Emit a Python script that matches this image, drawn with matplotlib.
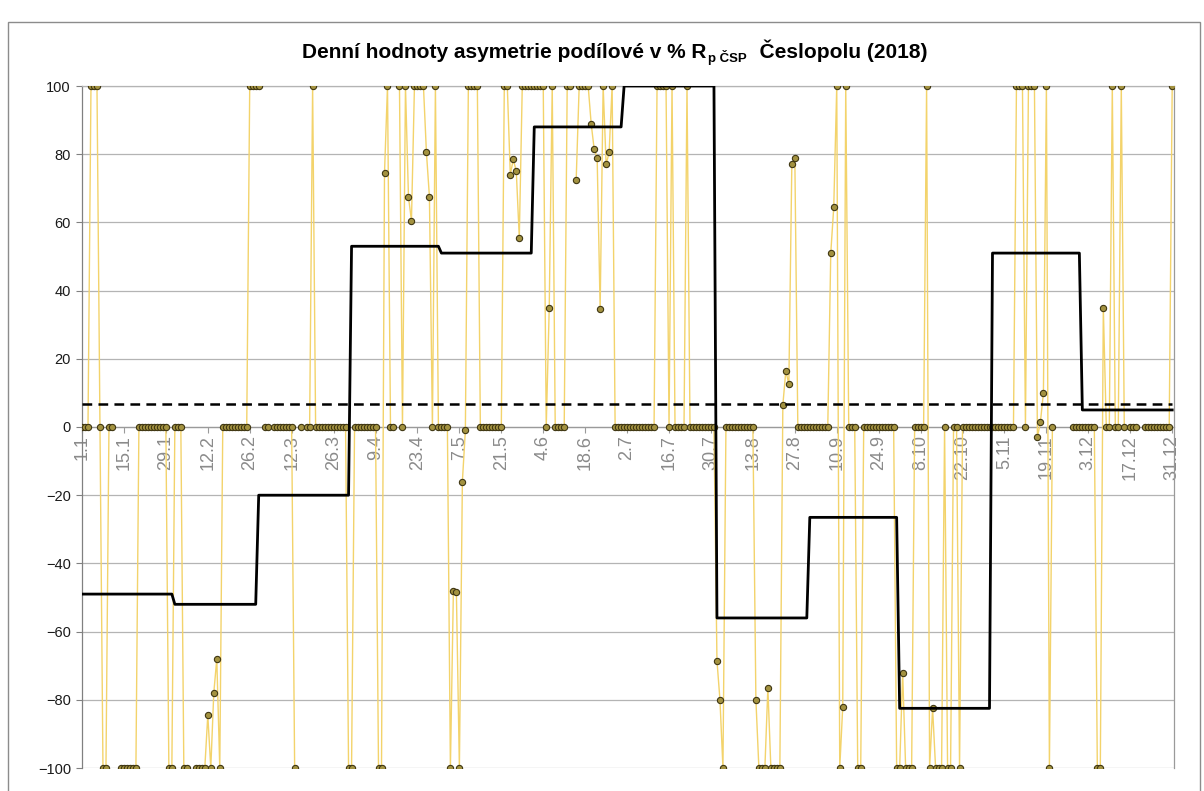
import numpy as np
import matplotlib
matplotlib.use("Agg")
import matplotlib.pyplot as plt
from matplotlib.patches import Rectangle

plt.rcParams['font.family'] = ['Liberation Sans', 'DejaVu Sans']
plt.rcParams['lines.scale_dashes'] = False

nan = np.nan
# daily values (% asymmetry), one list per month of 2018
jan = [0, 0, 0, 100, 100, 100, 0, -100, -100, 0, 0, nan, nan,
       -100, -100, -100, -100, -100, -100,
       0, 0, 0, 0, 0, 0, 0, 0, 0, 0, -100, -100]
feb = [0, 0, 0, -100, -100, nan, nan, -100, -100, -100, -100, -84.5, -100,
       -78, -68, -100, 0, 0, 0, 0, 0, 0, 0, 0, 0, 100, 100, 100]
mar = [100, nan, 0, 0, nan, 0, 0, 0, 0, 0, 0, 0, -100, nan, 0, nan, 0, 0, 100,
       0, 0, 0, 0, 0, 0, 0, 0, 0, 0, 0, -100]
apr = [-100, 0, 0, 0, 0, 0, 0, 0, 0, -100, -100, 74.5, 100, 0, 0, nan, 100, 0,
       100, 67.5, 60.5, 100, 100, 100, 100, 80.5, 67.5, 0, 100, 0]
may = [0, 0, 0, -100, -48, -48.5, -100, -16, -1, 100, 100, 100, 100,
       0, 0, 0, 0, 0, 0, 0, 0, 100, 100, 74, 78.5, 75, 55.5, 100, 100, 100, 100]
jun = [100, 100, 100, 100, 0, 35, 100, 0, 0, 0, 0, 100, 100, nan, 72.5,
       100, 100, 100, 100, 89, 81.5, 79, 34.5, 100, 77, 80.5, 100, 0, 0, 0]
jul = [0, 0, 0, 0, 0, 0, 0, 0, 0, 0, 0, 100, 100, 100, 100, 0, 100, 0, 0, 0, 0,
       100, 0, 0, 0, 0, 0, 0, 0, 0, 0]
aug = [-68.5, -80, -100, 0, 0, 0, 0, 0, 0, 0, 0, 0, 0, -80, -100, -100, -100,
       -76.5, -100, -100, -100, -100, 6.5, 16.5, 12.5, 77, 79, 0, 0, 0, 0]
sep = [0, 0, 0, 0, 0, 0, 0, 51, 64.5, 100, -100, -82, 100, 0, 0, 0, -100, -100,
       0, 0, 0, 0, 0, 0, 0, 0, 0, 0, 0, -100]
oct_ = [-100, -72, -100, -100, -100, 0, 0, 0, 0, 100, -100, -82.5, -100, -100,
        -100, 0, -100, -100, 0, 0, -100, 0, 0, 0, 0, 0, 0, 0, 0, 0, 0]
nov = [0, 0, 0, 0, 0, 0, 0, 0, 100, 100, 100, 0, 100, 100, 100, -3, 1.5, 10,
       100, -100, 0, nan, nan, nan, nan, nan, nan, 0, 0, 0]
dec = [0, 0, 0, 0, 0, -100, -100, 35, 0, 0, 100, 0, 0, 100, 0, nan, 0, 0, 0,
       nan, nan, 0, 0, 0, 0, 0, 0, 0, 0, 0, 100]

months = [jan, feb, mar, apr, may, jun, jul, aug, sep, oct_, nov, dec]
monthly_mean = [-49, -52, -20, 53, 51, 88, 100, -56, -26.5, -82.5, 51, 5]
annual_mean = 6.6

tick_labels = ["1.1", "15.1", "29.1", "12.2", "26.2", "12.3", "26.3", "9.4",
               "23.4", "7.5", "21.5", "4.6", "18.6", "2.7", "16.7", "30.7",
               "13.8", "27.8", "10.9", "24.9", "8.10", "22.10", "5.11",
               "19.11", "3.12", "17.12", "31.12"]

daily = np.array([v for m in months for v in m], dtype=float)
days = np.arange(len(daily))
month_len = [len(m) for m in months]
step_vals = np.repeat(monthly_mean, month_len)

W, H = 1204, 791
fig = plt.figure(figsize=(W / 100, H / 100), dpi=100)
fig.patch.set_facecolor('white')

# outer chart border
fig.patches.append(Rectangle((8 / W, -0.05), (1200 - 8) / W, 1.05 - 22 / H,
                             transform=fig.transFigure, fill=False,
                             edgecolor='#8c8c8c', lw=1.0))

left, right, top, bottom = 82, 1174, 86, 768
ax = fig.add_axes([left / W, 1 - bottom / H, (right - left) / W, (bottom - top) / H])

ax.set_xlim(0, 364.6)
ax.set_ylim(-100, 100)
ax.set_yticks(np.arange(-100, 101, 20))
ax.yaxis.grid(True, color='#b4b4b4', lw=0.9)
ax.set_axisbelow(True)

ax.plot(days, daily, color='#f3d36b', lw=1.0, zorder=3,
        marker='o', ms=4.5, mfc='#a39240', mec='#3f3612', mew=0.8)
ax.plot(days, step_vals, color='black', lw=2.0, zorder=4)
ax.plot([0, 364], [annual_mean, annual_mean], color='black', lw=1.8,
        dashes=(7, 4.5), zorder=4)

ax.spines['bottom'].set_position(('data', 0))
ax.spines['bottom'].set_color('#9a9a9a')
ax.spines['left'].set_color('#808080')
ax.spines['top'].set_color('#b4b4b4')
ax.spines['right'].set_color('#9a9a9a')
for s in ax.spines.values():
    s.set_linewidth(0.9)

xt = np.arange(0, 365, 14)
ax.set_xticks(xt)
ax.set_xticklabels(tick_labels, rotation=90, color='#8a8a8a', fontsize=13)
ax.tick_params(axis='x', direction='out', length=4, color='#9a9a9a', pad=2)
ax.tick_params(axis='y', direction='out', length=4, color='#808080',
               labelsize=10.5, labelcolor='#1a1a1a', pad=4)

# title with subscript
fig.canvas.draw()
r = fig.canvas.get_renderer()
base_y = 1 - 58 / H
kw = dict(fontweight='bold', color='black', va='baseline')
t1 = fig.text(0, base_y, "Denní hodnoty asymetrie podílové v % R", fontsize=15, **kw)
t2 = fig.text(0, base_y - 4 / H, "p ČSP", fontsize=9.5, **kw)
t3 = fig.text(0, base_y, "  Česlopolu (2018)", fontsize=15, **kw)
w1 = t1.get_window_extent(r).width
w2 = t2.get_window_extent(r).width + 3
w3 = t3.get_window_extent(r).width
total = w1 + w2 + w3
x0 = 615 - total / 2
t1.set_x(x0 / W)
t2.set_x((x0 + w1 + 1) / W)
t3.set_x((x0 + w1 + w2) / W)

fig.savefig("out.png", dpi=100, facecolor='white')
